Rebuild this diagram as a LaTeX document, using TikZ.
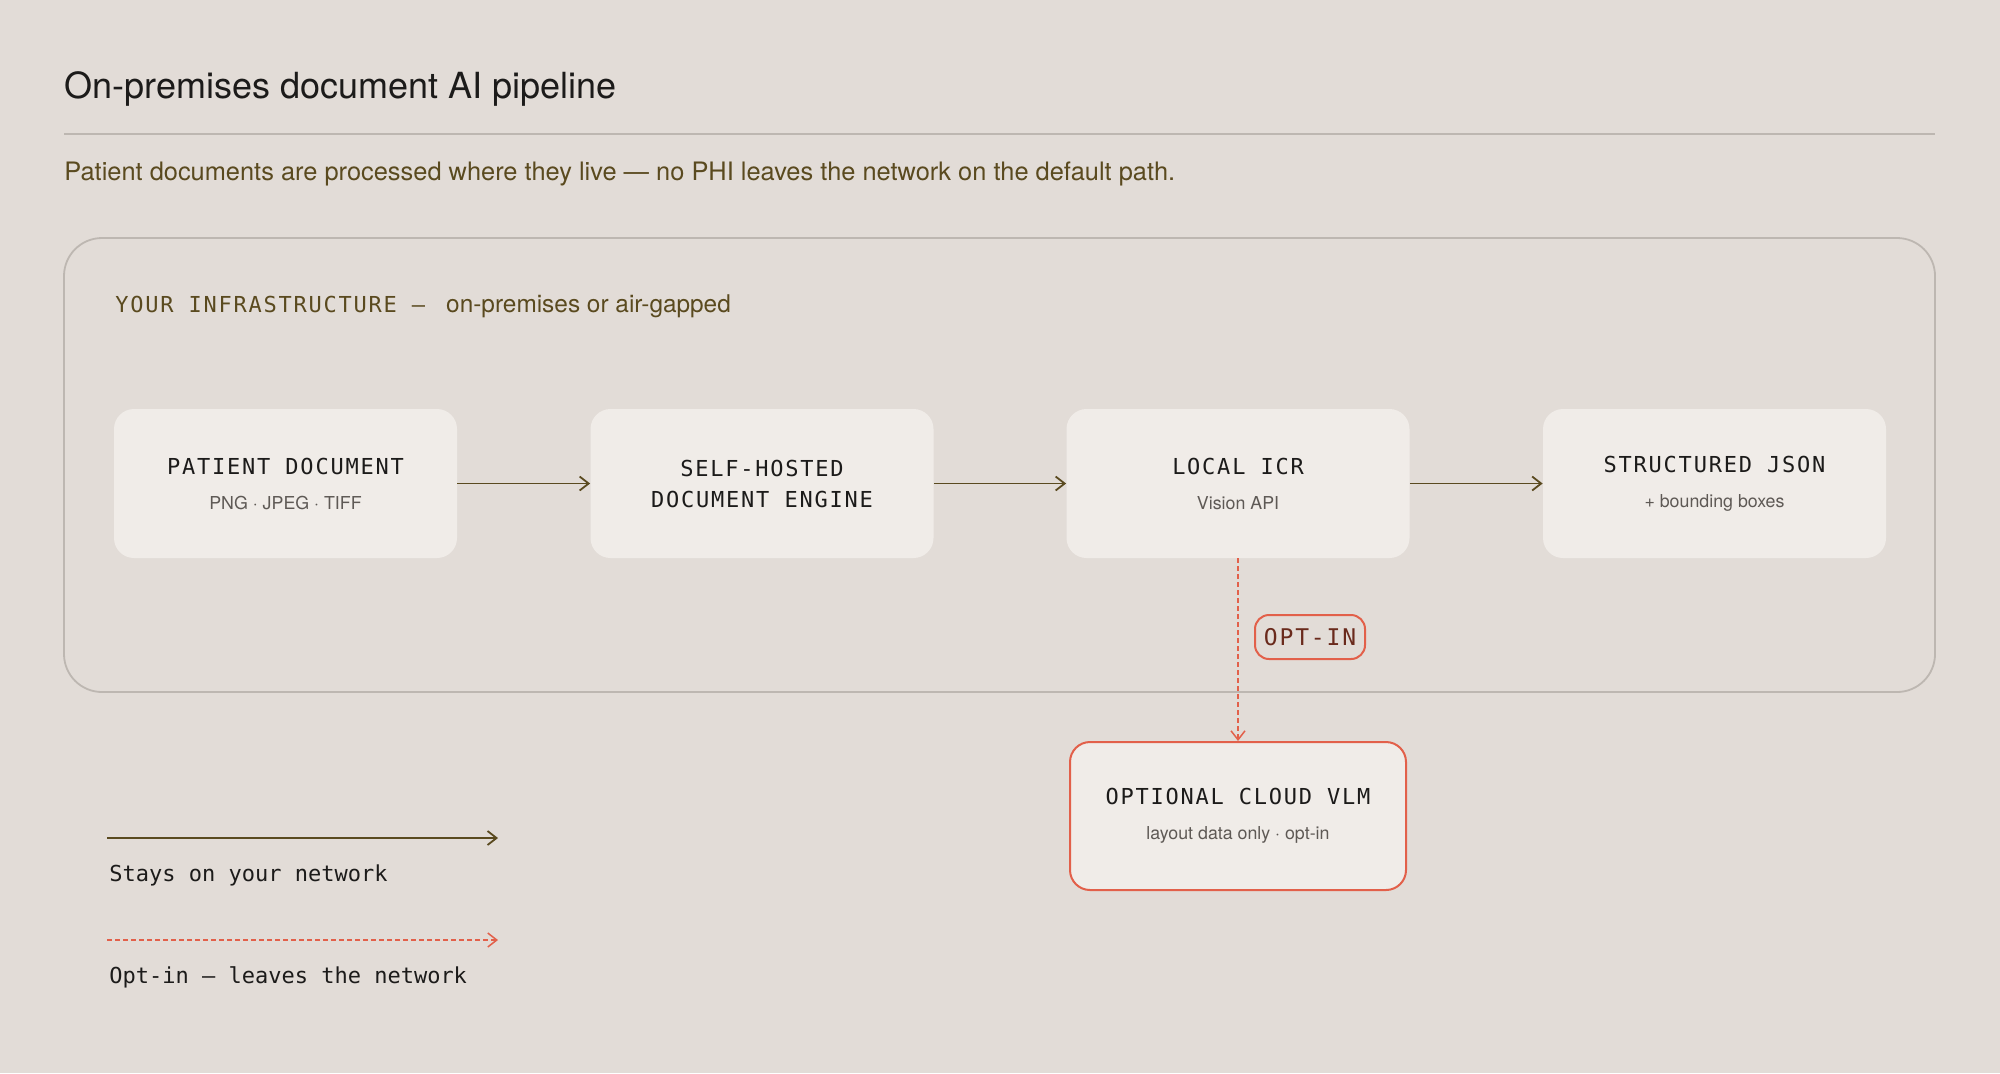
\documentclass[tikz,border=0pt]{standalone}
\usepackage{fontspec}
\setmainfont{TeX Gyre Heros}
\newfontfamily\monofont{DejaVu Sans Mono}
\newfontfamily\capsfont{DejaVu Sans Mono}[LetterSpace=8]
\usepackage{xcolor}
\usetikzlibrary{arrows.meta}
\definecolor{paper}{HTML}{E2DCD7}
\definecolor{card}{HTML}{F0ECE8}
\definecolor{olive}{HTML}{5A4A1F}
\definecolor{alert}{HTML}{E2604A}
\definecolor{frame}{HTML}{BDB7B1}
\definecolor{ink}{HTML}{1C1B1A}
\definecolor{muted}{HTML}{5E5955}
\definecolor{alertink}{HTML}{6A2A1C}
\newcommand{\stagesub}[1]{{\rmfamily\fontsize{8.9}{8.9}\selectfont\color{muted}#1}}
\tikzset{%
	textline/.style = {anchor=base west, inner sep=0pt},
	stage/.style    = {fill=card, rounded corners=10pt, minimum width=171.5pt, minimum height=74.5pt, align=center, text=ink, font=\capsfont\fontsize{11}{17.5}\selectfont},
	cloud/.style    = {stage, draw=alert, line width=1pt, minimum width=168pt, minimum height=74pt},
	tag/.style      = {draw=alert, line width=1pt, rounded corners=7pt, minimum width=55pt, minimum height=22pt, inner sep=0pt, text=alertink, font=\capsfont\fontsize{11.5}{12}\selectfont},
	flow/.style     = {draw=olive, line width=0.9pt, -{Straight Barb[length=4.5pt,width=7pt]}},
	optin/.style    = {draw=alert, line width=0.75pt, dash pattern=on 2.5pt off 1.5pt, -{Straight Barb[length=4.5pt,width=7pt]}},
}

\begin{document}
\begin{tikzpicture}[x=0.5pt,y=-0.5pt]
	\fill[paper] (0,0) rectangle (2000,1073);
	\node[textline, text=ink, font=\fontsize{18}{21}\selectfont] (title) at (64,98) {On-premises document AI pipeline};
	\draw[frame, line width=0.75pt] (64,134) -- (1935,134);
	\node[textline, text=olive, font=\fontsize{12.7}{15}\selectfont] (lede) at (64,180) {Patient documents are processed where they live --- no PHI leaves the network on the default path.};
	\draw[frame, line width=0.9pt, rounded corners=19pt] (64,238) rectangle (1935,692);
	\node[textline, text=olive, font=\fontsize{12.2}{14}\selectfont] (zone) at (115,312) {{\capsfont\fontsize{11}{13}\selectfont YOUR INFRASTRUCTURE —}\hspace{10.5pt}on-premises or air-gapped};
	\node[stage] (doc) at (285.5,483.5) {PATIENT DOCUMENT\\\stagesub{PNG · JPEG · TIFF}};
	\node[stage, font=\capsfont\fontsize{11}{15.5}\selectfont] (engine) at (762,483.5) {SELF-HOSTED\\DOCUMENT ENGINE};
	\node[stage] (icr) at (1238,483.5) {LOCAL ICR\\\stagesub{Vision API}};
	\node[stage] (json) at (1714.5,483.5) {STRUCTURED JSON\\\stagesub{+ bounding boxes}};
	\node[cloud] (vlm) at (1238,816) {OPTIONAL CLOUD VLM\\\stagesub{layout data only · opt-in}};
	\node[tag] (gate) at (1310,637) {OPT-IN};
	\draw[flow] (doc.east) -- (engine.west);
	\draw[flow] (engine.east) -- (icr.west);
	\draw[flow] (icr.east) -- (json.west);
	\draw[optin] (icr.south) -- (vlm.north);
	\coordinate (stayA) at (107,838);
	\coordinate (stayB) at (498,838);
	\coordinate (leaveA) at (107,940);
	\coordinate (leaveB) at (498,940);
	\draw[flow] (stayA) -- (stayB);
	\draw[optin] (leaveA) -- (leaveB);
	\node[textline, text=ink, font=\monofont\fontsize{11}{13}\selectfont] (staytext) at (109,881) {Stays on your network};
	\node[textline, text=ink, font=\monofont\fontsize{11}{13}\selectfont] (leavetext) at (109,983) {Opt-in — leaves the network};
\end{tikzpicture}
\end{document}
